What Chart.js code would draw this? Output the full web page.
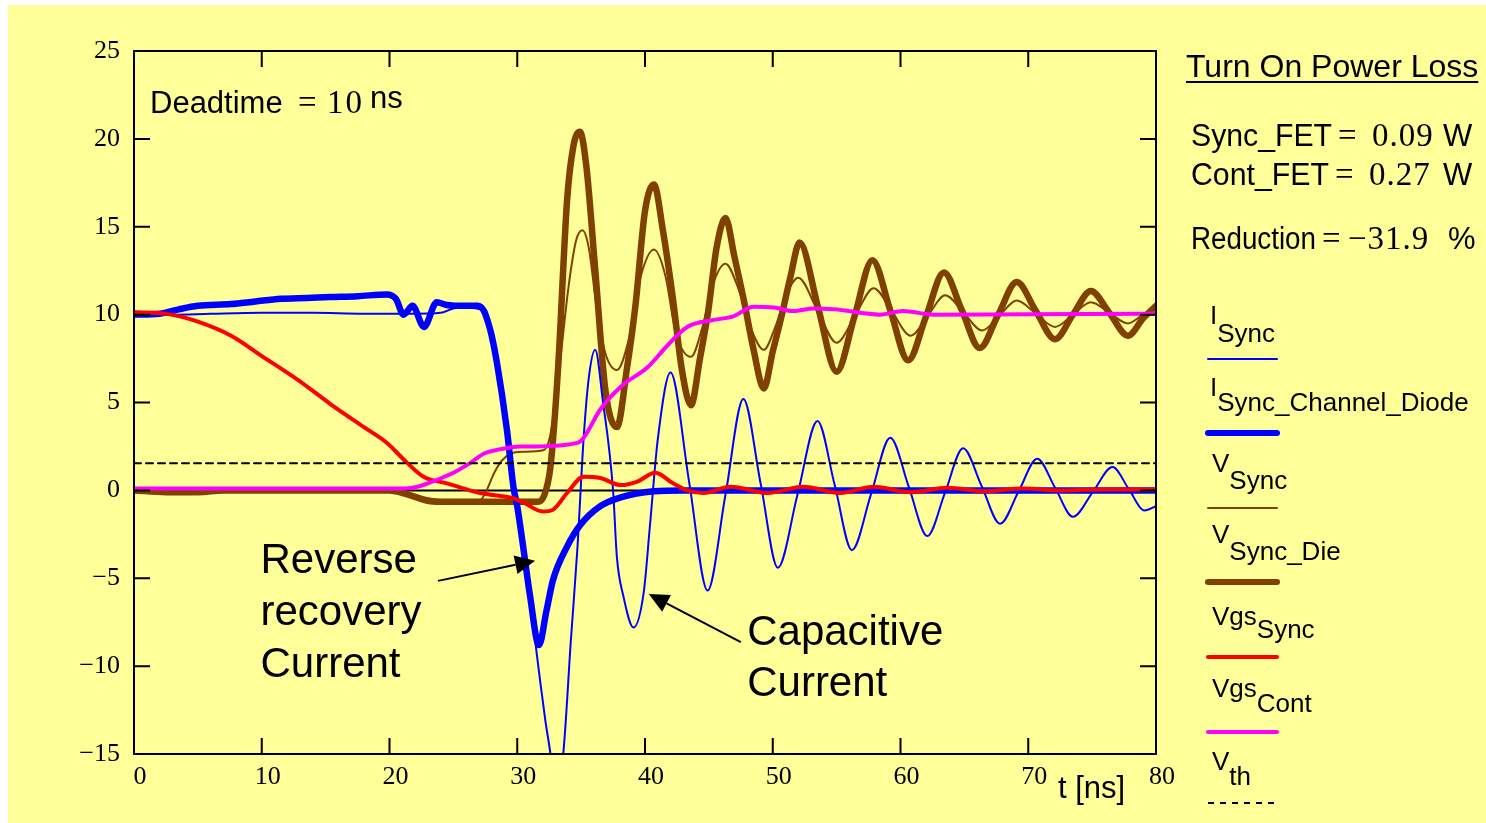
<!DOCTYPE html>
<html>
<head>
<meta charset="utf-8">
<title>Turn On Power Loss</title>
<style>
  html, body { margin: 0; padding: 0; background: #fff; }
  canvas { display: block; }
</style>
<script src="https://cdn.jsdelivr.net/npm/chart.js@4.4.1/dist/chart.umd.min.js"></script>
</head>
<body>
<canvas id="turnOn" width="1486" height="823"></canvas>
<script>
// axis ticks
const xTicks = [0, 10, 20, 30, 40, 50, 60, 70, 80];
const yTicks = [-15, -10, -5, 0, 5, 10, 15, 20, 25];

// I_Sync
const iSyncT = [0, 3, 6, 10, 14, 18, 22, 24, 25, 26, 26.8, 27.5, 28.4, 29.2, 29.7, 30.5, 31.0, 31.8, 32.2, 32.6,
  33.0, 33.6, 34.2, 34.7, 35.2, 35.6, 36.1, 36.7, 37.5, 37.8, 38.3, 39.1, 39.9, 40.4, 41.0, 42.0, 43.45, 44.9, 46.3, 47.7,
  49.05, 50.4, 51.95, 53.5, 54.85, 56.2, 57.7, 59.2, 60.65, 62.1, 63.5, 64.9, 66.35, 67.8, 69.25, 70.7, 72.1, 73.5, 75.05, 76.6,
  77.85, 79.1, 80];
const iSyncV = [10.0, 10.0, 10.05, 10.1, 10.1, 10.05, 10.05, 10.1, 10.35, 10.4, 10.35, 10.1, 7.3, 3.4, 0.2, -3.4, -6.2, -10.9, -13.1, -15,
  -17.5, -15, -8.5, -3.4, 3.0, 6.4, 8.0, 5.1, 0, -3.8, -6.0, -7.8, -5.8, -1.9, 2.9, 6.7, 0.5, -5.7, -0.25, 5.2,
  0.4, -4.4, -0.2, 3.95, 0.3, -3.4, -0.2, 3.0, 0.2, -2.6, -0.1, 2.4, 0.25, -1.9, -0.05, 1.8, 0.15, -1.5, -0.1, 1.33,
  0.1, -1.15, -0.9];

// I_Sync_Channel_Diode
const iDiodeT = [0, 2, 3.5, 5, 7.6, 9.5, 11.5, 13.5, 15.4, 17.5, 19.8, 20.5, 21.1, 21.8, 22.7, 23.7, 24.5, 25.8, 26.9, 27.4,
  27.7, 28.0, 28.4, 29.2, 29.7, 30.0, 30.5, 31.0, 31.7, 32.3, 32.8, 33.9, 34.9, 36.5, 38.1, 40.7, 43, 80];
const iDiodeV = [10.0, 10.05, 10.3, 10.5, 10.6, 10.75, 10.9, 10.95, 11.0, 11.05, 11.15, 10.9, 10.0, 10.5, 9.3, 10.7, 10.55, 10.5, 10.5, 10.2,
  9.6, 8.8, 7.3, 3.4, 0.2, -0.9, -3.4, -6.0, -8.8, -6.8, -5.1, -3.2, -2.0, -0.9, -0.4, -0.05, 0, 0];

// V_Sync
const vSyncT = [0, 20, 21.5, 23, 26, 27.1, 27.6, 28.2, 28.8, 29.5, 30.5, 32.1, 32.6, 33.3, 34.0, 34.6, 35.1, 35.6, 36.2, 36.9,
  37.8, 38.7, 39.6, 40.7, 41.6, 42.4, 43.6, 44.5, 45.3, 46.3, 47.3, 48.3, 49.3, 50.2, 51.1, 52.0, 53.5, 55.0, 56.45, 57.9,
  59.35, 60.8, 62.15, 63.5, 64.95, 66.4, 67.75, 69.1, 70.6, 72.1, 73.5, 74.9, 76.35, 77.8, 79, 80];
const vSyncV = [0, 0, -0.15, -0.45, -0.6, -0.55, 0, 1.0, 1.7, 2.1, 2.2, 2.3, 3.2, 7, 11.5, 14.2, 14.8, 13.8, 10.5, 7.8,
  6.85, 8.5, 12, 13.7, 12.2, 9, 7.6, 9.3, 11.7, 12.9, 11.5, 9.2, 8.0, 9.3, 11.2, 12.1, 10.25, 8.4, 9.95, 11.5,
  10.15, 8.8, 9.95, 11.1, 10.1, 9.1, 9.95, 10.8, 10.05, 9.3, 10.0, 10.7, 10.1, 9.5, 10.0, 10.3];

// V_Sync_Die
const vDieT = [0, 2.5, 5, 7, 20, 21.5, 23, 24, 31.6, 32.1, 32.6, 33.2, 33.9, 34.4, 34.9, 35.4, 36.1, 36.9, 37.8, 38.6,
  39.25, 40.0, 40.7, 41.4, 42.15, 42.9, 43.6, 44.3, 44.95, 45.6, 46.3, 47.0, 47.8, 48.5, 49.3, 50.0, 50.7, 51.4, 52.1, 53.55,
  55.0, 56.4, 57.8, 59.2, 60.6, 62.0, 63.4, 64.8, 66.2, 67.65, 69.1, 70.6, 72.1, 73.5, 74.9, 76.35, 77.8, 79, 80];
const vDieV = [0, -0.1, -0.1, 0, 0, -0.25, -0.6, -0.65, -0.65, -0.3, 1.35, 7, 16.5, 19.6, 20.4, 18.5, 12.6, 5.7, 3.6, 7.0,
  10.5, 15.9, 17.4, 14.8, 11.1, 6.8, 4.85, 7.5, 10.2, 13.8, 15.5, 13.3, 10.6, 8.0, 5.8, 7.9, 9.95, 12.2, 14.1, 10.4,
  6.75, 9.9, 13.1, 10.25, 7.4, 9.9, 12.4, 10.25, 8.1, 10.0, 11.85, 10.2, 8.6, 10.0, 11.35, 10.1, 8.8, 9.8, 10.5];

// Vgs_Sync
const vgsSyncT = [0, 2.9, 5, 7.6, 10.1, 12.8, 15.4, 18, 19.8, 21.4, 22.7, 24.5, 27.1, 29.7, 30.5, 32.0, 32.8, 33.9, 35.2, 36.5,
  38.1, 39.4, 40.8, 42.2, 43.3, 44.6, 46.7, 49.6, 52.4, 55.3, 57.9, 60.8, 63.7, 66.5, 69.6, 72.5, 75.3, 80];
const vgsSyncV = [10.15, 10.0, 9.6, 8.8, 7.6, 6.3, 4.9, 3.6, 2.7, 1.55, 0.76, 0.4, -0.15, -0.45, -0.7, -1.2, -1.1, -0.15, 0.77, 0.7,
  0.3, 0.5, 1.0, 0.4, 0, -0.15, 0.2, -0.15, 0.2, -0.15, 0.2, -0.1, 0.15, -0.05, 0.1, 0, 0.05, 0.05];

// Vgs_Cont
const vgsContT = [0, 21, 22.4, 23.7, 25, 26.3, 27.4, 28.4, 30.2, 31.5, 34.7, 35.2, 36.5, 38.1, 40.2, 41.7, 43.3, 45.4, 46.9, 48.5,
  50.1, 51.6, 53.2, 54.8, 58.4, 60.2, 62.6, 80];
const vgsContV = [0.1, 0.1, 0.25, 0.6, 1.0, 1.55, 2.1, 2.3, 2.5, 2.5, 2.7, 3.0, 4.6, 5.9, 7.0, 8.2, 9.3, 9.7, 9.9, 10.45,
  10.4, 10.2, 10.35, 10.3, 10.0, 10.2, 10.0, 10.05];

// V_th
const vthT = [0, 80];
const vthV = [1.55, 1.55];

const SANS = '"Liberation Sans", Arial, sans-serif';
const SERIF = '"Liberation Serif", "Times New Roman", serif';

const pts = (t, v) => t.map((x, i) => ({ x, y: v[i] }));

function series(label, t, v, color, width, dash) {
  return {
    label, data: pts(t, v),
    borderColor: color, borderWidth: width, borderDash: dash || [],
    borderCapStyle: 'round', borderJoinStyle: 'round',
    cubicInterpolationMode: 'monotone',
    pointRadius: 0, fill: false
  };
}

// first dataset ends up on top
const datasets = [
  series('V_th', vthT, vthV, '#000000', 2, [7, 5]),
  series('Vgs_Cont', vgsContT, vgsContV, '#ff00ff', 4),
  series('Vgs_Sync', vgsSyncT, vgsSyncV, '#ff0000', 4),
  series('I_Sync_Channel_Diode', iDiodeT, iDiodeV, '#0000ff', 6.5),
  series('I_Sync', iSyncT, iSyncV, '#0000ff', 2),
  series('V_Sync_Die', vDieT, vDieV, '#804000', 6.5),
  series('V_Sync', vSyncT, vSyncV, '#804000', 2)
];

// legend: main symbol, subscript, dataset label, baselines and sample line y
const legendRows = [
  ['I', 'Sync', 'I_Sync', 324, 342, 359],
  ['I', 'Sync_Channel_Diode', 'I_Sync_Channel_Diode', 396, 411, 433],
  ['V', 'Sync', 'V_Sync', 472, 489, 508],
  ['V', 'Sync_Die', 'V_Sync_Die', 543, 560, 582],
  ['Vgs', 'Sync', 'Vgs_Sync', 625, 638, 657],
  ['Vgs', 'Cont', 'Vgs_Cont', 697, 712, 732],
  ['V', 'th', 'V_th', 770, 785, 803]
];

// power loss rows: name, value, unit, baseline, name width
const lossRows = [
  ['Sync_FET', '0.09', 'W', 146, 141],
  ['Cont_FET', '0.27', 'W', 185, 138],
  ['Reduction', '\u221231.9', '%', 249, 125]
];

function text(ctx, str, x, y, font, spacing, maxW) {
  ctx.font = font;
  ctx.letterSpacing = spacing || '0px';
  if (maxW) ctx.fillText(str, x, y, maxW); else ctx.fillText(str, x, y);
  const w = Math.min(ctx.measureText(str).width, maxW || Infinity);
  ctx.letterSpacing = '0px';
  return w;
}

function arrow(ctx, x1, y1, x2, y2) {
  const a = Math.atan2(y2 - y1, x2 - x1);
  const len = 20, half = 9.5;
  const bx = x2 - len * Math.cos(a), by = y2 - len * Math.sin(a);
  ctx.lineWidth = 2;
  ctx.beginPath(); ctx.moveTo(x1, y1); ctx.lineTo(bx, by); ctx.stroke();
  ctx.beginPath();
  ctx.moveTo(x2, y2);
  ctx.lineTo(bx + half * Math.sin(a), by - half * Math.cos(a));
  ctx.lineTo(bx - half * Math.sin(a), by + half * Math.cos(a));
  ctx.closePath(); ctx.fill();
}

const decor = {
  id: 'decor',
  beforeDraw(chart) {
    const ctx = chart.ctx;
    ctx.save();
    ctx.fillStyle = '#ffffff';
    ctx.fillRect(0, 0, chart.width, chart.height);
    ctx.fillStyle = '#ffff99';
    ctx.fillRect(8, 5, chart.width - 8, chart.height - 5);
    ctx.restore();
  },
  beforeDatasetsDraw(chart) {
    // zero line
    const { ctx, chartArea: a, scales: { y } } = chart;
    const y0 = y.getPixelForValue(0);
    ctx.save();
    ctx.strokeStyle = '#000'; ctx.lineWidth = 2;
    ctx.beginPath(); ctx.moveTo(a.left, y0); ctx.lineTo(a.right, y0); ctx.stroke();
    ctx.restore();
  },
  afterDatasetsDraw(chart) {
    const { ctx, chartArea: a, scales: { x, y } } = chart;
    ctx.save();
    ctx.strokeStyle = '#000'; ctx.fillStyle = '#000';
    ctx.lineWidth = 2;
    ctx.strokeRect(a.left, a.top, a.right - a.left, a.bottom - a.top);
    // inward ticks on all four sides
    const tl = 16;
    ctx.beginPath();
    xTicks.forEach(v => {
      const px = x.getPixelForValue(v);
      ctx.moveTo(px, a.bottom); ctx.lineTo(px, a.bottom - tl);
      ctx.moveTo(px, a.top); ctx.lineTo(px, a.top + tl);
    });
    yTicks.forEach(v => {
      const py = y.getPixelForValue(v);
      ctx.moveTo(a.left, py); ctx.lineTo(a.left + tl, py);
      ctx.moveTo(a.right, py); ctx.lineTo(a.right - tl, py);
    });
    ctx.stroke();

    // annotations placed in data units
    ctx.textBaseline = 'alphabetic';
    ctx.textAlign = 'left';
    const big = '42px ' + SANS;
    text(ctx, 'Reverse', x.getPixelForValue(9.9), y.getPixelForValue(-4.7), big);
    text(ctx, 'recovery', x.getPixelForValue(9.9), y.getPixelForValue(-7.65), big);
    text(ctx, 'Current', x.getPixelForValue(9.9), y.getPixelForValue(-10.6), big);
    text(ctx, 'Capacitive', x.getPixelForValue(48.0), y.getPixelForValue(-8.8), big);
    text(ctx, 'Current', x.getPixelForValue(48.0), y.getPixelForValue(-11.7), big);
    arrow(ctx, x.getPixelForValue(23.8), y.getPixelForValue(-5.15), x.getPixelForValue(31.4), y.getPixelForValue(-4.0));
    arrow(ctx, x.getPixelForValue(47.5), y.getPixelForValue(-8.63), x.getPixelForValue(40.3), y.getPixelForValue(-5.9));

    // deadtime note
    text(ctx, 'Deadtime', 150, 113, '31px ' + SANS);
    text(ctx, '=', 298, 113, '33px ' + SERIF);
    text(ctx, '10', 327, 113, '33px ' + SERIF, '2px');
    text(ctx, 'ns', 370, 108, '31px ' + SANS);
    ctx.restore();
  },
  afterDraw(chart) {
    const ctx = chart.ctx;
    ctx.save();
    ctx.fillStyle = '#000'; ctx.strokeStyle = '#000';
    ctx.textBaseline = 'alphabetic';
    ctx.textAlign = 'left';

    // axis title
    text(ctx, 't [ns]', 1058, 798, '31px ' + SANS);

    // power loss panel
    const w = text(ctx, 'Turn On Power Loss', 1186, 77, '32px ' + SANS, '0px', 293);
    ctx.fillRect(1186, 81, w, 2);
    lossRows.forEach(([name, val, unit, base, nameW]) => {
      const nw = text(ctx, name, 1191, base, '31px ' + SANS, '0px', nameW);
      const eqX = 1191 + nw + 6;
      text(ctx, '=', eqX, base, '33px ' + SERIF);
      text(ctx, val, eqX + 26 + (val.length > 4 ? 0 : 8), base, '33px ' + SERIF, '1px');
      text(ctx, unit, unit === '%' ? 1448 : 1443, base, '31px ' + SANS);
    });

    // legend
    legendRows.forEach(([main, sub, label, base, subBase, lineY]) => {
      const ds = chart.data.datasets.find(d => d.label === label);
      const mx = main === 'I' ? 1210 : 1212;
      const mw = text(ctx, main, mx, base, '26px ' + SANS);
      text(ctx, sub, mx + mw, subBase, '26px ' + SANS);
      ctx.save();
      ctx.strokeStyle = ds.borderColor;
      ctx.lineWidth = Math.min(ds.borderWidth, 6);
      ctx.lineCap = ds.borderDash.length ? 'butt' : 'round';
      ctx.setLineDash(ds.borderDash.length ? [6, 6] : []);
      ctx.beginPath(); ctx.moveTo(1208, lineY); ctx.lineTo(1277, lineY); ctx.stroke();
      ctx.restore();
    });
    ctx.restore();
  }
};

const tickFont = { family: SERIF, size: 26 };

new Chart(document.getElementById('turnOn'), {
  type: 'line',
  data: { datasets },
  options: {
    responsive: false,
    animation: false,
    events: [],
    layout: { padding: { top: 51, right: 330, bottom: 0, left: 0 } },
    plugins: { legend: { display: false }, tooltip: { enabled: false } },
    scales: {
      x: {
        type: 'linear', min: 0, max: 80,
        grid: { display: false, drawTicks: false },
        border: { display: false },
        ticks: { stepSize: 10, color: '#000', font: tickFont, padding: 8, labelOffset: 6, maxRotation: 0, autoSkip: false },
        afterFit(scale) { scale.height = 69; }
      },
      y: {
        type: 'linear', min: -15, max: 25,
        grid: { display: false, drawTicks: false },
        border: { display: false },
        ticks: {
          stepSize: 5, color: '#000', font: tickFont, padding: 14,
          callback: v => (v < 0 ? '\u2212' + Math.abs(v) : String(v))
        },
        afterFit(scale) { scale.width = 134; }
      }
    }
  },
  plugins: [decor]
});
</script>
</body>
</html>
